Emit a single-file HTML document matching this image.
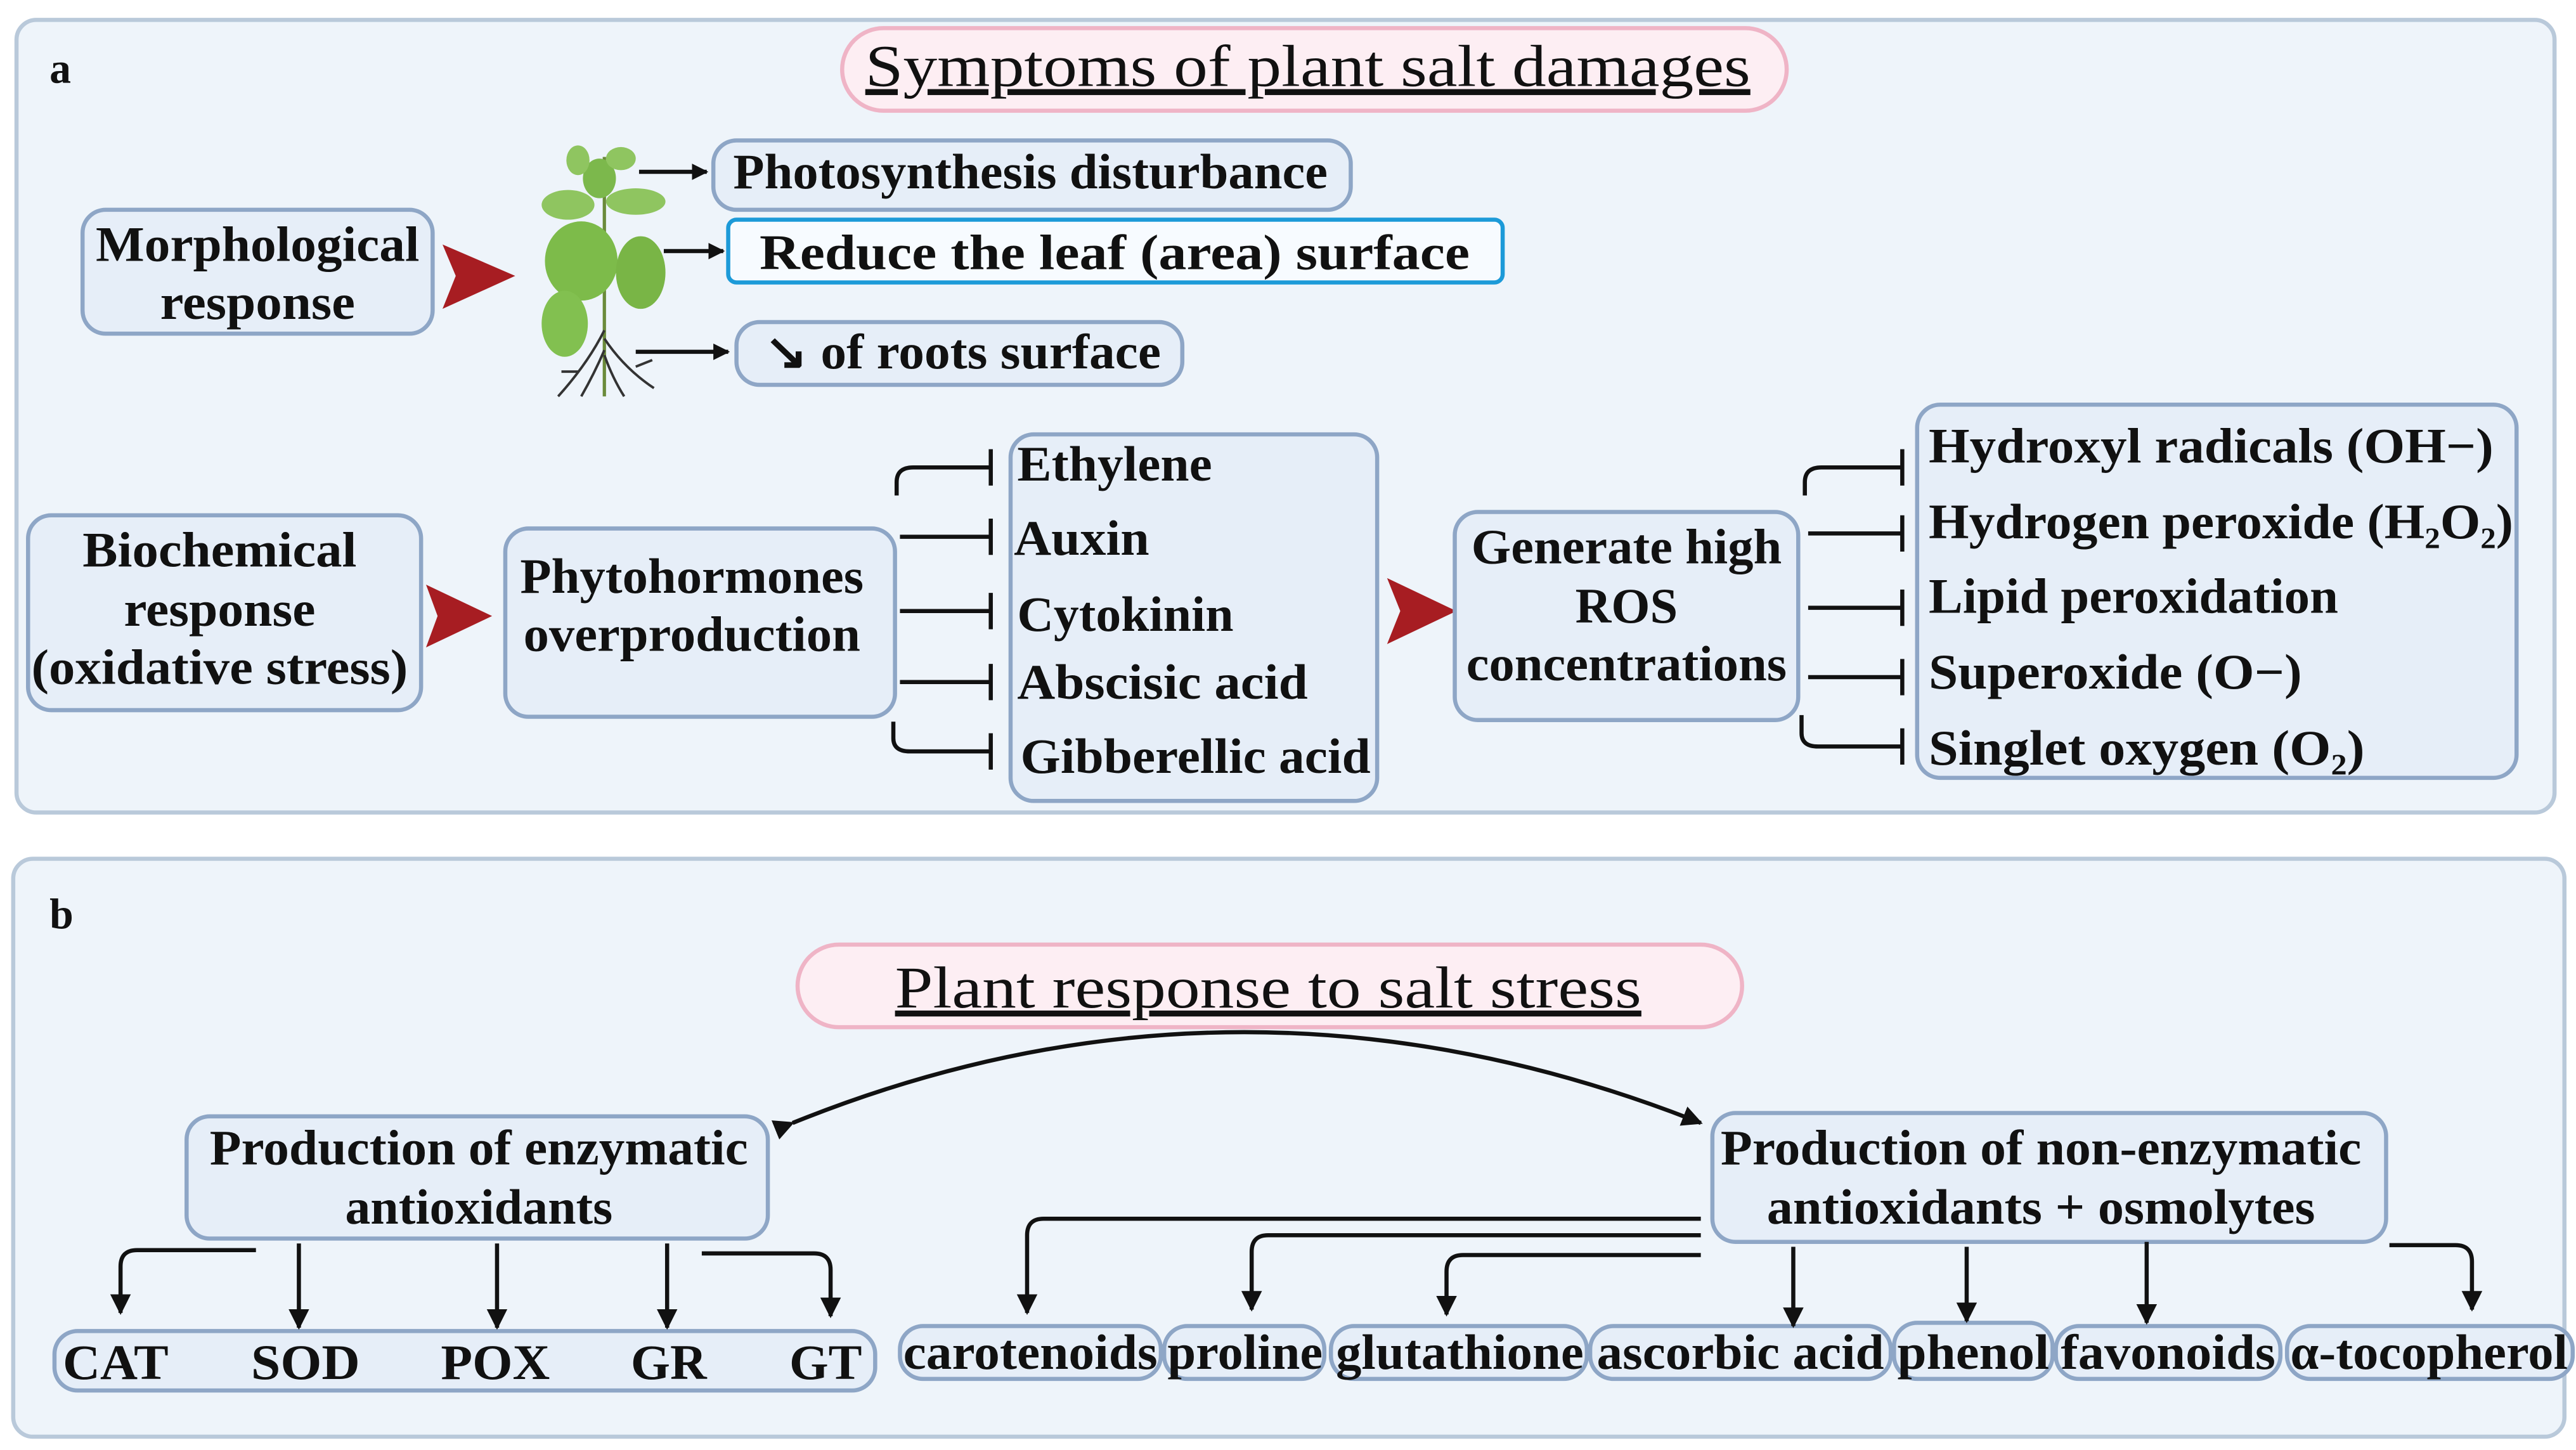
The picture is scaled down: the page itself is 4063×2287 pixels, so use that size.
<!DOCTYPE html>
<html><head><meta charset="utf-8"><style>
html,body{margin:0;padding:0;background:#fff;}
svg{display:block;}
text{font-family:"Liberation Serif",serif;fill:#111;}
.t{font-size:30px;font-weight:bold;}
.bx{fill:#e6eef8;stroke:#8ea6c6;stroke-width:2.5;}
.ln{stroke:#111;stroke-width:2.5;fill:none;}
</style></head><body>
<svg width="4063" height="2287" viewBox="0 0 1560 878" xmlns="http://www.w3.org/2000/svg">
<defs>
<marker id="ah" viewBox="0 0 10 10" refX="9" refY="5" markerWidth="5" markerHeight="5" orient="auto"><path d="M0,0 L10,5 L0,10 z" fill="#111"/></marker>
<marker id="as" viewBox="0 0 10 10" refX="9" refY="5" markerWidth="4" markerHeight="4" orient="auto"><path d="M0,0 L10,5 L0,10 z" fill="#111"/></marker>
</defs>
<rect x="0" y="0" width="1560" height="878" fill="#fff"/>
<!-- Panel a -->
<rect x="10" y="12" width="1537" height="480" rx="12" fill="#eef4fa" stroke="#b9c9da" stroke-width="2.5"/>
<text x="30" y="50" style="font-size:26px;font-weight:bold">a</text>
<rect x="510" y="17" width="572" height="50" rx="25" fill="#fdeef3" stroke="#efb4c6" stroke-width="2.5"/>
<text x="792" y="52" text-anchor="middle" style="font-size:36px;text-decoration:underline" textLength="536" lengthAdjust="spacingAndGlyphs">Symptoms of plant salt damages</text>

<rect class="bx" x="50" y="127" width="212" height="75" rx="14"/>
<text class="t" x="156" y="158" text-anchor="middle" textLength="196" lengthAdjust="spacingAndGlyphs">Morphological</text>
<text class="t" x="156" y="193" text-anchor="middle" textLength="118" lengthAdjust="spacingAndGlyphs">response</text>
<path d="M268,148 L312,167 L268,187 L276,167 z" fill="#a71d22"/>

<!-- plant -->
<g>
<path d="M366,95 L366,240" stroke="#6a8a3a" stroke-width="2"/>
<path d="M366,200 q-10,20 -28,40 M366,205 q12,18 30,30 M366,212 q-6,14 -14,28 M366,215 q5,14 12,25 M350,225 l-10,0 M385,222 l10,-4" stroke="#333" stroke-width="1.5" fill="none"/>
<ellipse cx="352" cy="158" rx="22" ry="24" fill="#7dbb4a"/>
<ellipse cx="388" cy="165" rx="15" ry="22" fill="#79b546"/>
<ellipse cx="342" cy="196" rx="14" ry="20" fill="#82c050"/>
<ellipse cx="344" cy="124" rx="16" ry="9" fill="#8fc560"/>
<ellipse cx="385" cy="122" rx="18" ry="8" fill="#8fc560"/>
<ellipse cx="363" cy="108" rx="10" ry="12" fill="#7cb84c"/>
<ellipse cx="376" cy="96" rx="9" ry="7" fill="#8fc560"/>
<ellipse cx="350" cy="97" rx="7" ry="9" fill="#8fc560"/>
</g>
<line class="ln" x1="387" y1="104" x2="428" y2="104" marker-end="url(#as)"/>
<line class="ln" x1="402" y1="152" x2="438" y2="152" marker-end="url(#as)"/>
<line class="ln" x1="385" y1="213" x2="441" y2="213" marker-end="url(#as)"/>

<rect class="bx" x="432" y="85" width="386" height="42" rx="14"/>
<text class="t" x="624" y="114" text-anchor="middle" textLength="360" lengthAdjust="spacingAndGlyphs">Photosynthesis disturbance</text>
<rect x="441" y="133" width="469" height="38" rx="5" fill="#f7fbff" stroke="#1c9ad8" stroke-width="2.5"/>
<text class="t" x="675" y="163" text-anchor="middle" textLength="430" lengthAdjust="spacingAndGlyphs">Reduce the leaf (area) surface</text>
<rect class="bx" x="446" y="195" width="270" height="38" rx="14"/>
<text class="t" x="583" y="223" text-anchor="middle" textLength="240" lengthAdjust="spacingAndGlyphs">↘ of roots surface</text>

<!-- biochemical -->
<rect class="bx" x="17" y="312" width="238" height="118" rx="14"/>
<text class="t" x="133" y="343" text-anchor="middle" textLength="166" lengthAdjust="spacingAndGlyphs">Biochemical</text>
<text class="t" x="133" y="379" text-anchor="middle" textLength="116" lengthAdjust="spacingAndGlyphs">response</text>
<text class="t" x="133" y="414" text-anchor="middle" textLength="228" lengthAdjust="spacingAndGlyphs">(oxidative stress)</text>
<path d="M258,354 L298,373 L258,392 L265,373 z" fill="#a71d22"/>
<rect class="bx" x="306" y="320" width="236" height="114" rx="14"/>
<text class="t" x="419" y="359" text-anchor="middle" textLength="208" lengthAdjust="spacingAndGlyphs">Phytohormones</text>
<text class="t" x="419" y="394" text-anchor="middle" textLength="204" lengthAdjust="spacingAndGlyphs">overproduction</text>

<path class="ln" d="M543,300 L543,292 Q543,283 553,283 L600,283 M600,272 L600,294"/>
<path class="ln" d="M545,325 L600,325 M600,314 L600,336"/>
<path class="ln" d="M545,370 L600,370 M600,359 L600,381"/>
<path class="ln" d="M545,413 L600,413 M600,402 L600,424"/>
<path class="ln" d="M541,437 L541,447 Q541,455 551,455 L600,455 M600,444 L600,466"/>

<rect class="bx" x="612" y="263" width="222" height="222" rx="14"/>
<text class="t" x="616" y="291" textLength="118" lengthAdjust="spacingAndGlyphs">Ethylene</text>
<text class="t" x="614" y="336" textLength="82" lengthAdjust="spacingAndGlyphs">Auxin</text>
<text class="t" x="616" y="382" textLength="131" lengthAdjust="spacingAndGlyphs">Cytokinin</text>
<text class="t" x="616" y="423" textLength="176" lengthAdjust="spacingAndGlyphs">Abscisic acid</text>
<text class="t" x="618" y="468" textLength="212" lengthAdjust="spacingAndGlyphs">Gibberellic acid</text>
<path d="M840,350 L882,370 L840,390 L848,370 z" fill="#a71d22"/>

<rect class="bx" x="881" y="310" width="208" height="126" rx="14"/>
<text class="t" x="985" y="341" text-anchor="middle" textLength="188" lengthAdjust="spacingAndGlyphs">Generate high</text>
<text class="t" x="985" y="377" text-anchor="middle" textLength="62" lengthAdjust="spacingAndGlyphs">ROS</text>
<text class="t" x="985" y="412" text-anchor="middle" textLength="194" lengthAdjust="spacingAndGlyphs">concentrations</text>

<path class="ln" d="M1093,300 L1093,292 Q1093,283 1103,283 L1152,283 M1152,272 L1152,294"/>
<path class="ln" d="M1095,323 L1152,323 M1152,312 L1152,334"/>
<path class="ln" d="M1095,368 L1152,368 M1152,357 L1152,379"/>
<path class="ln" d="M1095,410 L1152,410 M1152,399 L1152,421"/>
<path class="ln" d="M1091,433 L1091,444 Q1091,452 1101,452 L1152,452 M1152,441 L1152,463"/>

<rect class="bx" x="1161" y="245" width="363" height="226" rx="14"/>
<text class="t" x="1168" y="280" textLength="342" lengthAdjust="spacingAndGlyphs">Hydroxyl radicals (OH−)</text>
<text class="t" x="1168" y="326" textLength="354" lengthAdjust="spacingAndGlyphs">Hydrogen peroxide (H₂O₂)</text>
<text class="t" x="1168" y="371" textLength="248" lengthAdjust="spacingAndGlyphs">Lipid peroxidation</text>
<text class="t" x="1168" y="417" textLength="226" lengthAdjust="spacingAndGlyphs">Superoxide (O−)</text>
<text class="t" x="1168" y="463" textLength="264" lengthAdjust="spacingAndGlyphs">Singlet oxygen (O₂)</text>

<!-- Panel b -->
<rect x="8" y="520" width="1545" height="350" rx="12" fill="#eef4fa" stroke="#b9c9da" stroke-width="2.5"/>
<text x="30" y="562" style="font-size:26px;font-weight:bold">b</text>
<rect x="483" y="572" width="572" height="50" rx="25" fill="#fdeef3" stroke="#efb4c6" stroke-width="2.5"/>
<text x="768" y="610" text-anchor="middle" style="font-size:36px;text-decoration:underline" textLength="452" lengthAdjust="spacingAndGlyphs">Plant response to salt stress</text>
<path class="ln" d="M480,680 Q752,570 1030,680" marker-start="url(#ah)" marker-end="url(#ah)"/>

<rect class="bx" x="113" y="676" width="352" height="74" rx="14"/>
<text class="t" x="290" y="705" text-anchor="middle" textLength="326" lengthAdjust="spacingAndGlyphs">Production of enzymatic</text>
<text class="t" x="290" y="741" text-anchor="middle" textLength="162" lengthAdjust="spacingAndGlyphs">antioxidants</text>
<rect class="bx" x="1037" y="674" width="408" height="78" rx="14"/>
<text class="t" x="1236" y="705" text-anchor="middle" textLength="388" lengthAdjust="spacingAndGlyphs">Production of non-enzymatic</text>
<text class="t" x="1236" y="741" text-anchor="middle" textLength="332" lengthAdjust="spacingAndGlyphs">antioxidants + osmolytes</text>

<rect class="bx" x="33" y="806" width="497" height="36" rx="14"/>
<text class="t" x="70" y="835" text-anchor="middle" textLength="64" lengthAdjust="spacingAndGlyphs">CAT</text>
<text class="t" x="185" y="835" text-anchor="middle" textLength="66" lengthAdjust="spacingAndGlyphs">SOD</text>
<text class="t" x="300" y="835" text-anchor="middle" textLength="66" lengthAdjust="spacingAndGlyphs">POX</text>
<text class="t" x="405" y="835" text-anchor="middle" textLength="46" lengthAdjust="spacingAndGlyphs">GR</text>
<text class="t" x="500" y="835" text-anchor="middle" textLength="44" lengthAdjust="spacingAndGlyphs">GT</text>
<path class="ln" d="M155,757 L83,757 Q73,757 73,767 L73,795" marker-end="url(#ah)"/>
<line class="ln" x1="181" y1="753" x2="181" y2="804" marker-end="url(#ah)"/>
<line class="ln" x1="301" y1="753" x2="301" y2="804" marker-end="url(#ah)"/>
<line class="ln" x1="404" y1="753" x2="404" y2="804" marker-end="url(#ah)"/>
<path class="ln" d="M425,759 L493,759 Q503,759 503,769 L503,797" marker-end="url(#ah)"/>

<g>
<rect class="bx" x="545" y="803" width="158" height="32" rx="14"/>
<rect class="bx" x="705" y="803" width="97" height="32" rx="14"/>
<rect class="bx" x="806" y="803" width="155" height="32" rx="14"/>
<rect class="bx" x="963" y="803" width="182" height="32" rx="14"/>
<rect class="bx" x="1147" y="801" width="96" height="34" rx="14"/>
<rect class="bx" x="1245" y="803" width="136" height="32" rx="14"/>
<rect class="bx" x="1385" y="803" width="173" height="32" rx="14"/>
<text class="t" x="624" y="829" text-anchor="middle" textLength="154" lengthAdjust="spacingAndGlyphs">carotenoids</text>
<text class="t" x="754" y="829" text-anchor="middle" textLength="94" lengthAdjust="spacingAndGlyphs">proline</text>
<text class="t" x="884" y="829" text-anchor="middle" textLength="150" lengthAdjust="spacingAndGlyphs">glutathione</text>
<text class="t" x="1054" y="829" text-anchor="middle" textLength="174" lengthAdjust="spacingAndGlyphs">ascorbic acid</text>
<text class="t" x="1195" y="829" text-anchor="middle" textLength="92" lengthAdjust="spacingAndGlyphs">phenol</text>
<text class="t" x="1313" y="829" text-anchor="middle" textLength="130" lengthAdjust="spacingAndGlyphs">favonoids</text>
<text class="t" x="1471" y="829" text-anchor="middle" textLength="168" lengthAdjust="spacingAndGlyphs">α-tocopherol</text>
</g>
<path class="ln" d="M1030,738 L632,738 Q622,738 622,748 L622,795" marker-end="url(#ah)"/>
<path class="ln" d="M1030,748 L768,748 Q758,748 758,758 L758,793" marker-end="url(#ah)"/>
<path class="ln" d="M1030,760 L886,760 Q876,760 876,770 L876,796" marker-end="url(#ah)"/>
<line class="ln" x1="1086" y1="755" x2="1086" y2="803" marker-end="url(#ah)"/>
<line class="ln" x1="1191" y1="755" x2="1191" y2="800" marker-end="url(#ah)"/>
<line class="ln" x1="1300" y1="752" x2="1300" y2="801" marker-end="url(#ah)"/>
<path class="ln" d="M1447,754 L1487,754 Q1497,754 1497,764 L1497,793" marker-end="url(#ah)"/>
</svg>
</body></html>
